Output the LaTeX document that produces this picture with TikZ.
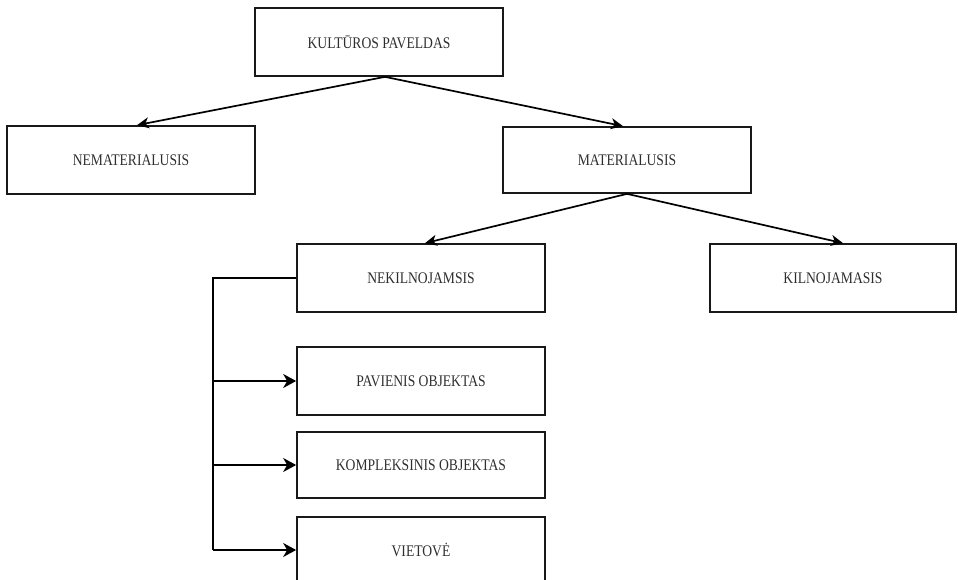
\documentclass[tikz,border=0pt]{standalone}
\usepackage{fontspec}
\newfontfamily\boxfont[FakeStretch=0.84]{Liberation Serif}
\usetikzlibrary{arrows.meta,calc}
\definecolor{txt}{HTML}{2E2E2E}
\begin{document}
\begin{tikzpicture}[x=1pt,y=-1pt,
  box/.style={draw=black!90, line width=1.7pt, minimum width=248pt, minimum height=67pt,
    inner sep=0pt, text=txt, font=\boxfont\fontsize{16.2}{19}\selectfont},
  link/.style={line width=1.7pt, -{Stealth[length=12pt,width=11pt,inset=3.5pt]}},
  branch/.style={line width=1.7pt, -{Stealth[length=13pt,width=14pt,inset=4pt]}}]
\useasboundingbox (0,0) rectangle (958,580);
\clip (0,0) rectangle (958,580);
\node[box, minimum height=68pt] (kp) at (379,42) {KULTŪROS PAVELDAS};
\node[box, minimum height=68pt] (nem) at (131,160) {NEMATERIALUSIS};
\node[box, minimum height=66pt] (mat) at (627,160) {MATERIALUSIS};
\node[box, minimum height=68pt] (nek) at (421,278) {NEKILNOJAMSIS};
\node[box, minimum height=68pt, minimum width=246pt] (kil) at (833,278) {KILNOJAMASIS};
\node[box, minimum height=68pt] (pav) at (421,381) {PAVIENIS OBJEKTAS};
\node[box, minimum height=66pt] (kom) at (421,465) {KOMPLEKSINIS OBJEKTAS};
\node[box, minimum height=66pt] (vie) at (421,550) {VIETOVĖ};
\coordinate (kpa) at ([xshift=6pt]kp.south);
\coordinate (mata) at (mat.south);
\draw[link] (kpa) -- ([xshift=6pt]nem.north);
\draw[link] (kpa) -- ([xshift=-4pt]mat.north);
\draw[link] (mata) -- ([xshift=4pt]nek.north);
\draw[link] (mata) -- ([xshift=10pt]kil.north);
\coordinate (bx) at ($(nek.west)+(-83,0)$);
\draw[line width=1.7pt] (nek.west) -- (bx) -- (bx |- vie.west);
\draw[branch] (bx |- pav.west) -- (pav.west);
\draw[branch] (bx |- kom.west) -- (kom.west);
\draw[branch] (bx |- vie.west) -- (vie.west);
\end{tikzpicture}
\end{document}
